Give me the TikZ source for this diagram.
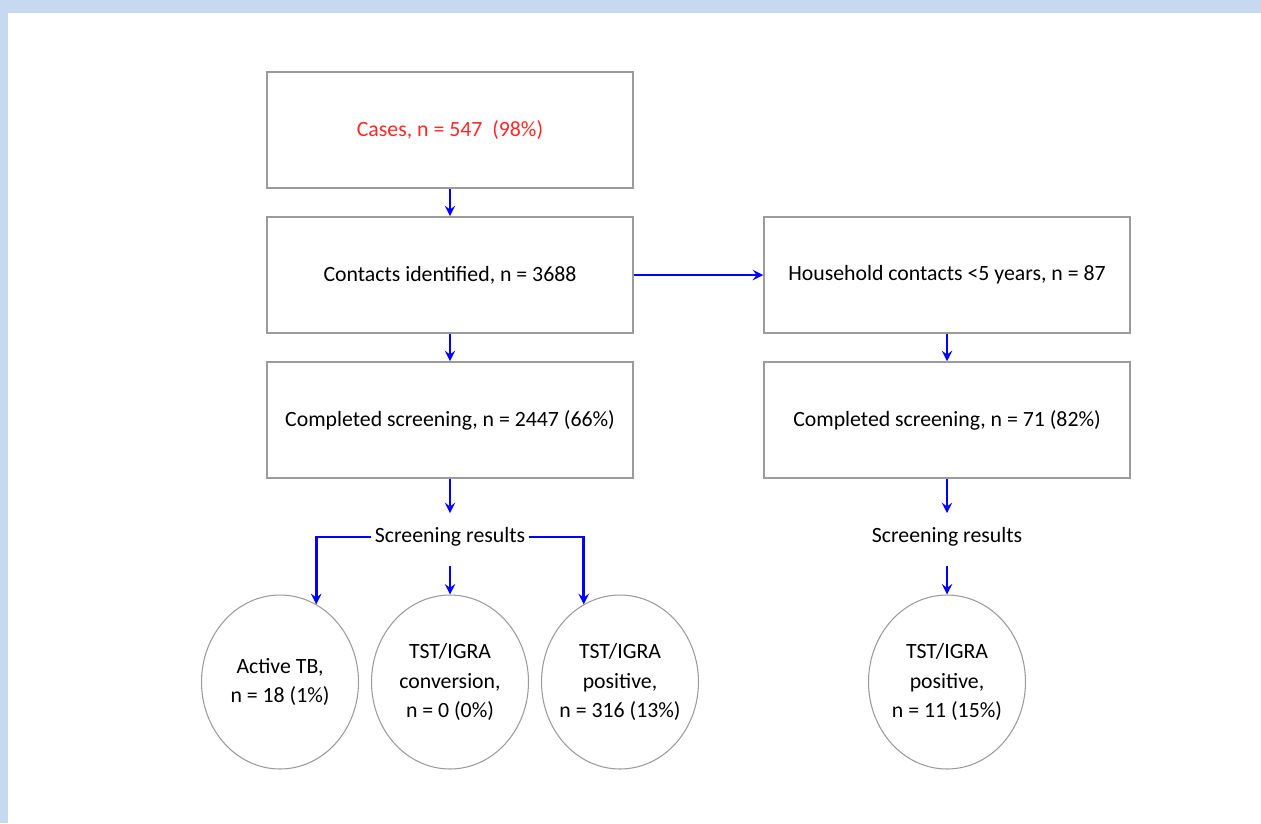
\documentclass[tikz,border=0pt]{standalone}
\usepackage{fontspec}
\setmainfont{Carlito}
\usepackage{tikz}
\usetikzlibrary{arrows,shapes,positioning}
\definecolor{azulFlecha}{RGB}{0,0,255}
\definecolor{grisBorde}{RGB}{155,155,155}
\definecolor{rojoTexto}{RGB}{255,40,40}
\definecolor{fondoAzul}{RGB}{198,217,241}
\tikzstyle{box}   =[rectangle, draw=grisBorde, line width=0.9pt,
                    minimum width=7.32cm, minimum height=2.32cm,
                    inner sep=0pt, font=\fontsize{12.4}{16.8}\selectfont]
\tikzstyle{result}=[ellipse, draw=grisBorde, line width=0.6pt,
                    minimum width=3.14cm, minimum height=3.48cm,
                    inner sep=0pt, inner xsep=-4pt, align=center,
                    font=\fontsize{12.4}{16.8}\selectfont]
\tikzstyle{restext}=[inner sep=2pt, font=\fontsize{12.4}{16.8}\selectfont]
\tikzstyle{flow}  =[->, >=stealth, draw=azulFlecha, line width=1.6pt]

\begin{document}
\begin{tikzpicture}

    \begin{scope}[x=0.02cm,y=-0.02cm]
        % background band
        \fill[fondoAzul] (0,0) rectangle (1261,823);
        \fill[white] (8,13) rectangle (1261,823);

        % left column
        \draw (450,130) node(cases)[box,text=rojoTexto]{Cases, n = 547\ \ (98\%)};
        \draw (450,275) node(contacts)[box]{Contacts identified, n = 3688};
        \draw (450,420) node(screenA)[box]{Completed screening, n = 2447 (66\%)};
        \draw (450,537) node(resA)[restext]{Screening results};

        % right column
        \draw (947,275) node(household)[box]{Household contacts <5 years, n = 87};
        \draw (947,420) node(screenB)[box]{Completed screening, n = 71 (82\%)};
        \draw (947,537) node(resB)[restext]{Screening results};

        % results
        \draw (280,682) node(activeTB)[result]{Active TB,\\n = 18 (1\%)};
        \draw (450,682) node(conv)[result]{TST/IGRA\\conversion,\\n = 0 (0\%)};
        \draw (620,682) node(posA)[result]{TST/IGRA\\positive,\\n = 316 (13\%)};
        \draw (947,682) node(posB)[result]{TST/IGRA\\positive,\\n = 11 (15\%)};

        \foreach \i/\j in {cases/contacts,contacts/screenA,contacts/household,household/screenB}
            \draw [flow] (\i) to (\j);

        \foreach \i/\j in {screenA/resA,screenB/resB}
            \draw [flow,shorten >=6pt] (\i) to (\j);
        \foreach \i/\j in {resA/conv,resB/posB}
            \draw [flow,shorten <=9pt] (\i) to (\j);

        \draw [flow] (resA.west) -| (activeTB.65);
        \draw [flow] (resA.east) -| (posA.115);
    \end{scope}

\end{tikzpicture}
\end{document}
